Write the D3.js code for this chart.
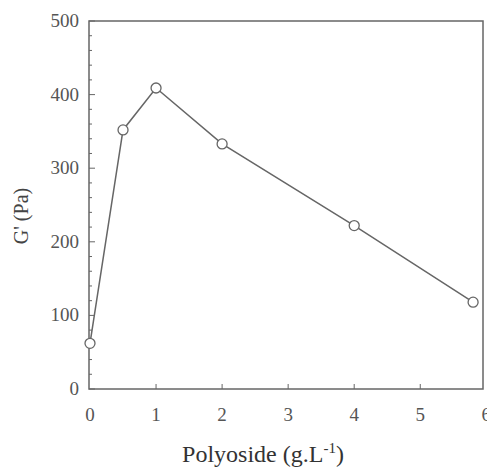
<!DOCTYPE html>
<html><head><meta charset="utf-8">
<script src="https://cdn.jsdelivr.net/npm/d3@7"></script>
<style>body{margin:0;background:#fff}svg{display:block}text{font-family:'Liberation Serif',serif}</style>
</head><body>
<script>
const concentration = [0, 0.5, 1, 2, 4, 5.8];
const modulus = [62, 352, 409, 333, 222, 118];
const xTicks = [0, 1, 2, 3, 4, 5, 6];
const yTicks = [0, 100, 200, 300, 400, 500];

(function () {
const W = 487, H = 470;
const mLeft = 89, mRight = 483, mTop = 21, mBottom = 389;
const svg = d3.select("body").append("svg").attr("width", W).attr("height", H);
const x = d3.scaleLinear().domain([0, 5.95]).range([mLeft + 1, mRight]);
const y = d3.scaleLinear().domain([0, 500]).range([mBottom, mTop]);
const col = "#666";

svg.append("rect").attr("x", mLeft).attr("y", mTop).attr("width", mRight - mLeft).attr("height", mBottom - mTop)
  .attr("fill", "none").attr("stroke", col).attr("stroke-width", 1.5);

const yMinor = d3.range(0, 501, 20);
svg.append("g").selectAll("line").data(yMinor).join("line")
  .attr("x1", mLeft).attr("x2", d => mLeft + (d % 100 === 0 ? 6 : 3))
  .attr("y1", d => y(d)).attr("y2", d => y(d)).attr("stroke", col).attr("stroke-width", 1);
svg.append("g").selectAll("text").data(yTicks).join("text")
  .attr("x", mLeft - 10).attr("y", d => y(d) + 6).attr("text-anchor", "end")
  .attr("font-size", 19).attr("fill", "#555").text(d => d);

svg.append("g").selectAll("line").data(xTicks.filter(d => d > 0 && d < 6)).join("line")
  .attr("x1", d => x(d)).attr("x2", d => x(d)).attr("y1", mBottom).attr("y2", mBottom - 5)
  .attr("stroke", col).attr("stroke-width", 1);
svg.append("g").selectAll("text").data(xTicks).join("text")
  .attr("x", d => x(d)).attr("y", 421).attr("text-anchor", "middle")
  .attr("font-size", 19).attr("fill", "#555").text(d => d);

const pts = concentration.map((c, i) => [c, modulus[i]]);
svg.append("path").datum(pts)
  .attr("d", d3.line().x(d => x(d[0])).y(d => y(d[1])))
  .attr("fill", "none").attr("stroke", col).attr("stroke-width", 1.5);
svg.append("g").selectAll("circle").data(pts).join("circle")
  .attr("cx", d => x(d[0])).attr("cy", d => y(d[1])).attr("r", 5)
  .attr("fill", "#fff").attr("stroke", col).attr("stroke-width", 1.3);

svg.append("text").attr("transform", "translate(28,216) rotate(-90)").attr("text-anchor", "middle")
  .attr("font-size", 20).attr("fill", "#444").text("G' (Pa)");
const xt = svg.append("text").attr("x", 263).attr("y", 462).attr("text-anchor", "middle")
  .attr("font-size", 24).attr("fill", "#333");
xt.append("tspan").text("Polyoside (g.L");
xt.append("tspan").attr("dy", -9).attr("font-size", 15).text("-1");
xt.append("tspan").attr("dy", 9).text(")");
})();
</script>
</body></html>
